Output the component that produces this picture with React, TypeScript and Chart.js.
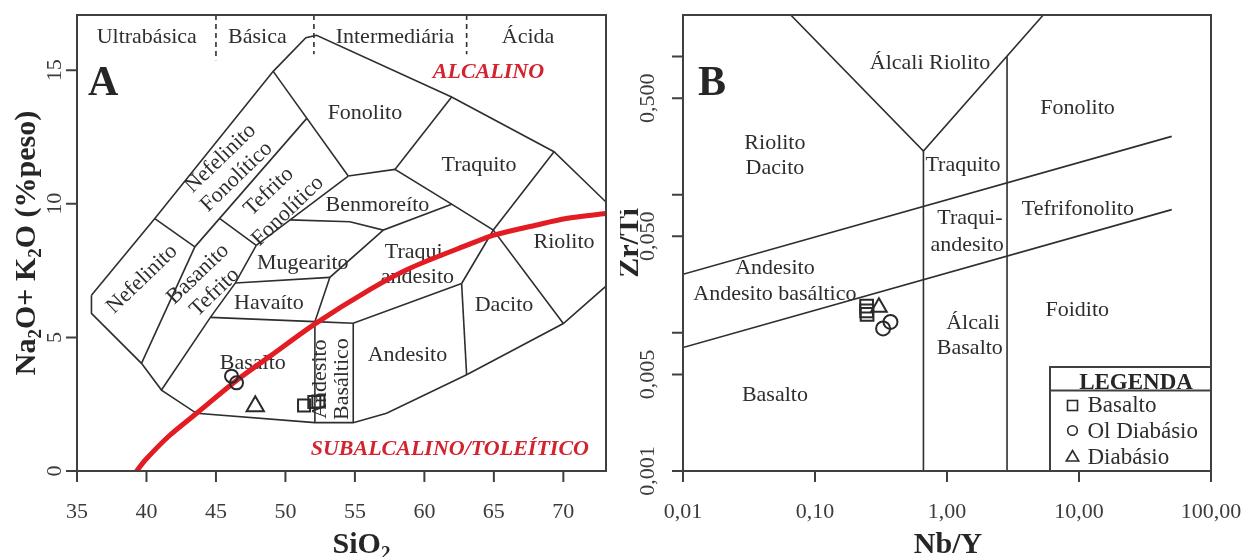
import React, { useEffect, useRef } from 'react';
import { Chart, registerables } from 'chart.js';

Chart.register(...registerables);

type Pt = [number, number];
type FieldLabel = { text: string; x: number; y: number; angle?: number };
type Seg = [string, boolean];

const SERIF = "'Liberation Serif', 'Times New Roman', serif";
const INK = '#2e2e2e';
const AXIS = '#404040';
const RED = '#e31b23';
const RED_TEXT = '#d2232e';

// ---------------- Panel A (TAS) ----------------
const A_X_RANGE: Pt = [35, 73.07];
const A_Y_RANGE: Pt = [0, 17.07];
const A_X_TICKS = [35, 40, 45, 50, 55, 60, 65, 70];
const A_X_TICK_LABELS = ['35', '40', '45', '50', '55', '60', '65', '70'];
const A_Y_TICKS = [0, 5, 10, 15];
const A_Y_TICK_LABELS = ['0', '5', '10', '15'];

const A_FIELD_LINES: Pt[][] = [
  [[36.04, 6.58], [36.04, 5.9], [39.64, 4.03], [41.08, 3.03], [43.6, 2.16], [52.12, 1.81], [54.88, 1.81], [57.28, 2.16], [63.04, 3.6], [70.0, 5.52], [73.07, 6.92]],
  [[36.04, 6.58], [40.6, 9.45], [49.12, 14.96], [51.47, 16.22], [52.24, 16.31], [61.96, 14.0], [69.33, 11.95], [73.07, 10.07]],
  [[40.6, 9.45], [43.48, 8.39]],
  [[43.48, 8.39], [51.52, 13.19]],
  [[49.12, 14.96], [54.52, 11.04]],
  [[39.64, 4.03], [43.48, 8.39]],
  [[45.28, 9.45], [47.9, 8.45]],
  [[41.08, 3.03], [44.6, 5.75], [46.4, 7.04], [47.9, 8.45]],
  [[47.9, 8.45], [54.52, 11.04]],
  [[54.52, 11.04], [57.88, 11.29], [61.96, 9.99], [64.96, 9.02], [70.0, 5.52]],
  [[57.88, 11.29], [61.96, 14.0]],
  [[69.33, 11.95], [64.96, 9.02], [62.68, 7.02]],
  [[50.32, 9.4], [54.64, 9.33], [57.04, 9.02], [61.96, 9.99]],
  [[57.04, 9.02], [53.2, 7.25], [52.12, 5.59]],
  [[46.4, 7.04], [53.2, 7.25]],
  [[44.6, 5.75], [52.12, 5.59]],
  [[52.12, 5.59], [52.12, 1.81]],
  [[52.12, 5.59], [54.88, 5.53], [62.68, 7.02]],
  [[54.88, 5.53], [54.88, 1.81]],
  [[62.68, 7.02], [63.04, 3.6]],
];

const A_DIVISIONS: Pt[][] = [
  [[45.0, 17.07], [45.0, 15.38]],
  [[52.05, 17.07], [52.05, 15.6]],
  [[63.04, 17.07], [63.04, 15.6]],
];

const A_IRVINE_BARAGAR: Pt[] = [
  [39.3, 0], [39.9, 0.4], [41.6, 1.3], [43.7, 2.2], [46.5, 3.4], [48.9, 4.3], [52.1, 5.5],
  [56.1, 6.8], [59.0, 7.6], [63.3, 8.5], [65.0, 8.83], [68.0, 9.2], [70.2, 9.45], [73.07, 9.64],
];

const A_BASALTO: Pt[] = [[51.34, 2.45], [52.08, 2.58], [52.37, 2.6]];
const A_OL_DIABASIO: Pt[] = [[46.12, 3.55], [46.48, 3.3]];
const A_DIABASIO: Pt[] = [[47.83, 2.42]];

const A_FIELD_LABELS: FieldLabel[] = [
  { text: 'Ultrabásica', x: 40.02, y: 16.24 },
  { text: 'Básica', x: 47.98, y: 16.24 },
  { text: 'Intermediária', x: 57.88, y: 16.24 },
  { text: 'Ácida', x: 67.46, y: 16.24 },
  { text: 'Nefelinito', x: 45.33, y: 11.7, angle: -44 },
  { text: 'Fonolítico', x: 46.48, y: 11.01, angle: -44 },
  { text: 'Tefrito', x: 48.81, y: 10.46, angle: -44 },
  { text: 'Fonolítico', x: 50.17, y: 9.73, angle: -44 },
  { text: 'Nefelinito', x: 39.68, y: 7.18, angle: -44 },
  { text: 'Basanito', x: 43.71, y: 7.37, angle: -44 },
  { text: 'Tefrito', x: 44.92, y: 6.69, angle: -44 },
  { text: 'Havaíto', x: 48.81, y: 6.27 },
  { text: 'Mugearito', x: 51.25, y: 7.77 },
  { text: 'Basalto', x: 47.65, y: 4.05 },
  { text: 'Benmoreíto', x: 56.62, y: 9.95 },
  { text: 'Fonolito', x: 55.72, y: 13.38 },
  { text: 'Traquito', x: 63.93, y: 11.45 },
  { text: 'Traqui-', x: 59.5, y: 8.2 },
  { text: 'andesito', x: 59.5, y: 7.27 },
  { text: 'Riolito', x: 70.05, y: 8.58 },
  { text: 'Dacito', x: 65.73, y: 6.21 },
  { text: 'Andesito', x: 58.78, y: 4.34 },
  { text: 'Andesito', x: 52.49, y: 3.44, angle: -90 },
  { text: 'Basáltico', x: 54.07, y: 3.44, angle: -90 },
];

const A_ALCALINO = { text: 'ALCALINO', x: 64.61, y: 14.73 };
const A_SUBALCALINO = { text: 'SUBALCALINO/TOLEÍTICO', x: 61.83, y: 0.6 };

const A_X_TITLE: Seg[] = [['SiO', false], ['2', true]];
const A_Y_TITLE: Seg[] = [['Na', false], ['2', true], ['O+ K', false], ['2', true], ['O (%peso)', false]];

// ---------------- Panel B (Zr/Ti x Nb/Y) ----------------
const B_X_RANGE: Pt = [0.01, 100];
const B_Y_RANGE: Pt = [0.001, 2.0];
const B_X_TICKS = [0.01, 0.1, 1, 10, 100];
const B_X_TICK_LABELS = ['0,01', '0,10', '1,00', '10,00', '100,00'];
const B_Y_TICKS = [0.001, 0.005, 0.01, 0.05, 0.1, 0.5, 1];
const B_Y_TICK_LABELS = ['0,001', '0,005', '', '0,050', '', '0,500', ''];

const B_FIELD_LINES: Pt[][] = [
  [[0.0655, 2.0], [0.663, 0.207], [5.36, 2.0]],
  [[0.663, 0.207], [0.663, 0.001]],
  [[2.85, 1.0], [2.85, 0.001]],
  [[0.01, 0.02657], [50.4, 0.2644]],
  [[0.01, 0.00784], [50.4, 0.078]],
];

const B_BASALTO: Pt[] = [[0.246, 0.0156], [0.246, 0.0144], [0.248, 0.0136]];
const B_OL_DIABASIO: Pt[] = [[0.328, 0.01076], [0.373, 0.012]];
const B_DIABASIO: Pt[] = [[0.305, 0.0153]];

const B_FIELD_LABELS: FieldLabel[] = [
  { text: 'Álcali Riolito', x: 0.743, y: 0.891 },
  { text: 'Riolito', x: 0.0497, y: 0.235 },
  { text: 'Dacito', x: 0.0497, y: 0.155 },
  { text: 'Traquito', x: 1.32, y: 0.163 },
  { text: 'Traqui-', x: 1.49, y: 0.0675 },
  { text: 'andesito', x: 1.42, y: 0.0431 },
  { text: 'Fonolito', x: 9.74, y: 0.421 },
  { text: 'Tefrifonolito', x: 9.8, y: 0.0784 },
  { text: 'Andesito', x: 0.0497, y: 0.0294 },
  { text: 'Andesito basáltico', x: 0.0497, y: 0.01905 },
  { text: 'Basalto', x: 0.0497, y: 0.00354 },
  { text: 'Álcali', x: 1.574, y: 0.01175 },
  { text: 'Basalto', x: 1.49, y: 0.00775 },
  { text: 'Foidito', x: 9.7, y: 0.01459 },
];

const B_X_TITLE: Seg[] = [['Nb/Y', false]];
const B_Y_TITLE: Seg[] = [['Zr/Ti', false]];

const SERIES_NAMES = ['Basalto', 'Ol Diabásio', 'Diabásio'];
const LEGEND_TITLE = 'LEGENDA';

// ---------------- drawing helpers ----------------
function drawText(ctx: CanvasRenderingContext2D, s: string, x: number, y: number, font: string, color: string,
  angle = 0, align: CanvasTextAlign = 'center', baseline: CanvasTextBaseline = 'middle') {
  ctx.save();
  ctx.translate(x, y);
  ctx.rotate((angle * Math.PI) / 180);
  ctx.font = font;
  ctx.fillStyle = color;
  ctx.textAlign = align;
  ctx.textBaseline = baseline;
  ctx.fillText(s, 0, 0);
  ctx.restore();
}

function drawRich(ctx: CanvasRenderingContext2D, segs: Seg[], x: number, y: number, size: number, angle: number) {
  ctx.save();
  ctx.translate(x, y);
  ctx.rotate((angle * Math.PI) / 180);
  const big = `bold ${size}px ${SERIF}`;
  const small = `bold ${Math.round(size * 0.62)}px ${SERIF}`;
  let w = 0;
  segs.forEach(([t, sub]) => { ctx.font = sub ? small : big; w += ctx.measureText(t).width; });
  let cx = -w / 2;
  ctx.fillStyle = '#262626';
  ctx.textAlign = 'left';
  ctx.textBaseline = 'alphabetic';
  segs.forEach(([t, sub]) => {
    ctx.font = sub ? small : big;
    ctx.fillText(t, cx, sub ? size * 0.2 : 0);
    cx += ctx.measureText(t).width;
  });
  ctx.restore();
}

interface PanelSpec {
  xTicks: number[]; xTickLabels: string[]; yTicks: number[]; yTickLabels: string[];
  yLabelGap: number; xTitle: Seg[]; yTitle: Seg[]; xTitleDx: number; yTitleGap: number;
  labels: FieldLabel[]; letter: string; letterDx: number;
  extraBefore?: (chart: any) => void; extraAfter?: (chart: any) => void;
}

function decorPlugin(spec: PanelSpec) {
  return {
    id: 'decor',
    beforeDatasetsDraw(chart: any) {
      const ctx = chart.ctx as CanvasRenderingContext2D;
      const xs = chart.scales.x, ys = chart.scales.y;
      spec.labels.forEach((l) => {
        drawText(ctx, l.text, xs.getPixelForValue(l.x), ys.getPixelForValue(l.y), `22px ${SERIF}`, INK, l.angle || 0);
      });
      if (spec.extraBefore) spec.extraBefore(chart);
    },
    afterDatasetsDraw(chart: any) {
      const ctx = chart.ctx as CanvasRenderingContext2D;
      const a = chart.chartArea;
      const xs = chart.scales.x, ys = chart.scales.y;
      ctx.save();
      ctx.strokeStyle = AXIS;
      ctx.lineWidth = 2;
      ctx.strokeRect(a.left, a.top, a.right - a.left, a.bottom - a.top);
      ctx.beginPath();
      spec.xTicks.forEach((v) => {
        const px = xs.getPixelForValue(v);
        ctx.moveTo(px, a.bottom); ctx.lineTo(px, a.bottom + 11);
      });
      spec.yTicks.forEach((v) => {
        const py = ys.getPixelForValue(v);
        ctx.moveTo(a.left, py); ctx.lineTo(a.left - 11, py);
      });
      ctx.stroke();
      ctx.restore();
      spec.xTicks.forEach((v, i) => {
        drawText(ctx, spec.xTickLabels[i], xs.getPixelForValue(v), a.bottom + 46.5, `22px ${SERIF}`, '#3c3c3c', 0, 'center', 'alphabetic');
      });
      spec.yTicks.forEach((v, i) => {
        if (!spec.yTickLabels[i]) return;
        drawText(ctx, spec.yTickLabels[i], a.left - spec.yLabelGap, ys.getPixelForValue(v), `22px ${SERIF}`, '#3c3c3c', -90, 'center', 'alphabetic');
      });
      drawRich(ctx, spec.xTitle, (a.left + a.right) / 2 + spec.xTitleDx, a.bottom + 82, 30, 0);
      drawRich(ctx, spec.yTitle, a.left - spec.yTitleGap, (a.top + a.bottom) / 2, 30, -90);
      drawText(ctx, spec.letter, a.left + spec.letterDx, a.top + 80, `bold 42px ${SERIF}`, '#262626', 0, 'left', 'alphabetic');
      if (spec.extraAfter) spec.extraAfter(chart);
    },
  };
}

const toXY = (pts: Pt[]) => pts.map(([x, y]) => ({ x, y }));

function lineSets(lines: Pt[][], width: number, dash?: number[]) {
  return lines.map((l) => ({
    data: toXY(l), showLine: true, pointRadius: 0, borderColor: INK, borderWidth: width,
    borderDash: dash || [], fill: false, tension: 0, order: 3,
  }));
}

function markerSet(pts: Pt[], style: string, r: number) {
  return {
    data: toXY(pts), showLine: false, pointStyle: style, pointRadius: r,
    borderColor: '#2a2a2a', backgroundColor: 'rgba(255,255,255,0)', pointBorderWidth: 2, borderWidth: 2, order: 0,
  };
}

function baseOptions(pad: any, xScale: any, yScale: any, plugin: any) {
  return {
    animation: false, responsive: false, devicePixelRatio: 1, events: [],
    layout: { padding: pad },
    plugins: { legend: { display: false }, tooltip: { enabled: false } },
    scales: { x: { ...xScale, display: false }, y: { ...yScale, display: false } },
  } as any;
}

function PanelA() {
  const ref = useRef<HTMLCanvasElement>(null);
  useEffect(() => {
    const spec: PanelSpec = {
      xTicks: A_X_TICKS, xTickLabels: A_X_TICK_LABELS, yTicks: A_Y_TICKS, yTickLabels: A_Y_TICK_LABELS,
      yLabelGap: 15.6, xTitle: A_X_TITLE, yTitle: A_Y_TITLE, xTitleDx: 20, yTitleGap: 42,
      labels: A_FIELD_LABELS, letter: 'A', letterDx: 11,
      extraBefore: (chart: any) => {
        const ctx = chart.ctx, xs = chart.scales.x, ys = chart.scales.y;
        drawText(ctx, A_ALCALINO.text, xs.getPixelForValue(A_ALCALINO.x), ys.getPixelForValue(A_ALCALINO.y), `italic bold 22px ${SERIF}`, RED_TEXT, 0, 'center', 'alphabetic');
        drawText(ctx, A_SUBALCALINO.text, xs.getPixelForValue(A_SUBALCALINO.x), ys.getPixelForValue(A_SUBALCALINO.y), `italic bold 22px ${SERIF}`, RED_TEXT, 0, 'center', 'alphabetic');
      },
    };
    const chart = new Chart(ref.current as HTMLCanvasElement, {
      type: 'scatter',
      data: {
        datasets: [
          markerSet(A_BASALTO, 'rect', 8.5),
          markerSet(A_OL_DIABASIO, 'circle', 6.5),
          markerSet(A_DIABASIO, 'triangle', 10),
          {
            data: toXY(A_IRVINE_BARAGAR), showLine: true, pointRadius: 0, borderColor: RED, borderWidth: 5,
            borderCapStyle: 'round', borderJoinStyle: 'round', tension: 0.3, fill: false, order: 1,
          },
          ...lineSets(A_FIELD_LINES, 1.6),
          ...lineSets(A_DIVISIONS, 1.6, [5, 4]),
        ] as any,
      },
      options: baseOptions({ left: 77, right: 14, top: 15, bottom: 86 },
        { type: 'linear', min: A_X_RANGE[0], max: A_X_RANGE[1] },
        { type: 'linear', min: A_Y_RANGE[0], max: A_Y_RANGE[1] }, null),
      plugins: [decorPlugin(spec)],
    });
    return () => chart.destroy();
  }, []);
  return <canvas ref={ref} width={620} height={557} style={{ position: 'absolute', left: 0, top: 0 }} />;
}

function PanelB() {
  const ref = useRef<HTMLCanvasElement>(null);
  useEffect(() => {
    const spec: PanelSpec = {
      xTicks: B_X_TICKS, xTickLabels: B_X_TICK_LABELS, yTicks: B_Y_TICKS, yTickLabels: B_Y_TICK_LABELS,
      yLabelGap: 29, xTitle: B_X_TITLE, yTitle: B_Y_TITLE, xTitleDx: 1, yTitleGap: 45,
      labels: B_FIELD_LABELS, letter: 'B', letterDx: 15,
      extraAfter: (chart: any) => {
        const ctx = chart.ctx as CanvasRenderingContext2D;
        const a = chart.chartArea;
        const left = a.right - 161, top = a.bottom - 104;
        ctx.save();
        ctx.fillStyle = '#ffffff';
        ctx.fillRect(left, top, a.right - left, a.bottom - top);
        ctx.strokeStyle = AXIS;
        ctx.lineWidth = 2;
        ctx.strokeRect(left, top, a.right - left, a.bottom - top);
        ctx.beginPath();
        ctx.moveTo(left, top + 23.5); ctx.lineTo(a.right, top + 23.5);
        ctx.stroke();
        ctx.restore();
        drawText(ctx, LEGEND_TITLE, left + 86, top + 21.5, `bold 23px ${SERIF}`, '#262626', 0, 'center', 'alphabetic');
        const sx = left + 22.5, tx = left + 37.5;
        const rows = [top + 45, top + 70.5, top + 96.5];
        ctx.save();
        ctx.strokeStyle = '#2a2a2a';
        ctx.lineWidth = 1.6;
        // square
        let cy = rows[0] - 6.5;
        ctx.strokeRect(sx - 5, cy - 5, 10, 10);
        // circle
        cy = rows[1] - 7;
        ctx.beginPath(); ctx.arc(sx, cy, 4.8, 0, Math.PI * 2); ctx.stroke();
        // triangle
        cy = rows[2] - 7;
        ctx.beginPath(); ctx.moveTo(sx, cy - 6); ctx.lineTo(sx + 6.2, cy + 4.5); ctx.lineTo(sx - 6.2, cy + 4.5); ctx.closePath(); ctx.stroke();
        ctx.restore();
        SERIES_NAMES.forEach((n, i) => drawText(ctx, n, tx, rows[i], `23px ${SERIF}`, INK, 0, 'left', 'alphabetic'));
      },
    };
    const chart = new Chart(ref.current as HTMLCanvasElement, {
      type: 'scatter',
      data: {
        datasets: [
          markerSet(B_BASALTO, 'rect', 9),
          markerSet(B_OL_DIABASIO, 'circle', 7),
          markerSet(B_DIABASIO, 'triangle', 9),
          ...lineSets(B_FIELD_LINES, 1.6),
        ] as any,
      },
      options: baseOptions({ left: 63, right: 38, top: 15, bottom: 86 },
        { type: 'logarithmic', min: B_X_RANGE[0], max: B_X_RANGE[1] },
        { type: 'logarithmic', min: B_Y_RANGE[0], max: B_Y_RANGE[1] }, null),
      plugins: [decorPlugin(spec)],
    });
    return () => chart.destroy();
  }, []);
  return <canvas ref={ref} width={629} height={557} style={{ position: 'absolute', left: 620, top: 0 }} />;
}

export default function App() {
  return (
    <div style={{ position: 'absolute', left: 0, top: 0, width: 1249, height: 557, background: '#ffffff', overflow: 'hidden' }}>
      <PanelA />
      <PanelB />
    </div>
  );
}
